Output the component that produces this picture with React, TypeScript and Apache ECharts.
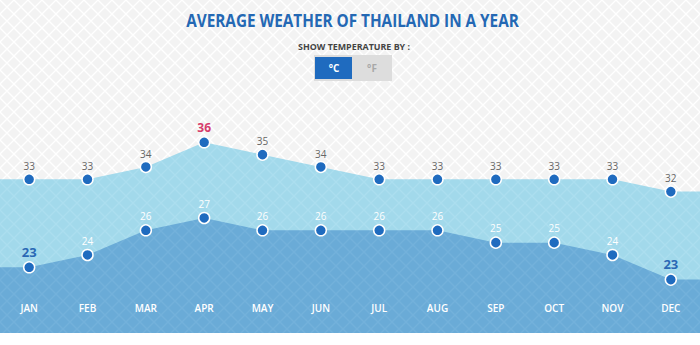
import React, { useEffect, useRef } from "react";
import * as echarts from "echarts";

const months = ["JAN", "FEB", "MAR", "APR", "MAY", "JUN", "JUL", "AUG", "SEP", "OCT", "NOV", "DEC"];
const highTemps = [33, 33, 34, 36, 35, 34, 33, 33, 33, 33, 33, 32];
const highLabels = ["33", "33", "34", "36", "35", "34", "33", "33", "33", "33", "33", "32"];
const lowTemps = [23, 24, 26, 27, 26, 26, 26, 26, 25, 25, 24, 22];
const lowLabels = ["23", "24", "26", "27", "26", "26", "26", "26", "25", "25", "24", "23"];
const titleText = "AVERAGE WEATHER OF THAILAND IN A YEAR";
const subtitleText = "SHOW TEMPERATURE BY :";
const unitC = "°C";
const unitF = "°F";

function tile(bg: string, line: string, s: number) {
  const svg =
    `<svg xmlns="http://www.w3.org/2000/svg" width="${s}" height="${s}">` +
    `<rect width="${s}" height="${s}" fill="${bg}"/>` +
    `<path d="M0 0L${s} ${s}M${s} 0L0 ${s}" stroke="${line}" stroke-width="1.4"/>` +
    `</svg>`;
  return { image: "data:image/svg+xml;charset=utf-8," + encodeURIComponent(svg), repeat: "repeat" };
}

function measure(text: string, font: string, fallback: number) {
  try {
    const c = document.createElement("canvas").getContext("2d");
    if (!c) return fallback;
    c.font = font;
    const w = c.measureText(text).width;
    return w > 0 ? w : fallback;
  } catch (e) {
    return fallback;
  }
}

function padded(values: number[]) {
  const pts: any[] = values.map((v, i) => [i, v]);
  pts.unshift({ value: [-0.5, values[0]], symbol: "none", label: { show: false } });
  pts.push({ value: [values.length - 0.5, values[values.length - 1]], symbol: "none", label: { show: false } });
  return pts;
}

export default function App() {
  const ref = useRef<HTMLDivElement>(null);
  useEffect(() => {
    if (!ref.current) return;
    const chart = echarts.init(ref.current, undefined, { renderer: "svg" });
    const maxHigh = Math.max(...highTemps);
    const minLowLabel = Math.min(...lowLabels.map(Number));

    const titleFont = 'bold 18px "Open Sans"';
    const titleW = measure(titleText, titleFont, 420);
    const subFont = 'bold 9px "Open Sans"';
    const subW = measure(subtitleText, subFont, 130);

    const highData = padded(highTemps).map((d, i) => {
      if (Array.isArray(d)) {
        const idx = i - 1;
        const isMax = highTemps[idx] === maxHigh;
        return {
          value: d,
          label: isMax
            ? { show: true, formatter: highLabels[idx], color: "#d63c6b", fontSize: 12, fontWeight: "bold", distance: 3 }
            : { show: true, formatter: highLabels[idx] },
        };
      }
      return d;
    });
    const lowData = padded(lowTemps).map((d, i) => {
      if (Array.isArray(d)) {
        const idx = i - 1;
        const isMin = Number(lowLabels[idx]) === minLowLabel;
        return {
          value: d,
          label: isMin
            ? { show: true, formatter: lowLabels[idx], color: "#2a68b5", fontSize: 13, fontWeight: "bold", distance: 3 }
            : { show: true, formatter: lowLabels[idx] },
        };
      }
      return d;
    });

    chart.setOption({
      animation: false,
      backgroundColor: "#ffffff",
      textStyle: { fontFamily: '"Open Sans", sans-serif' },
      graphic: [
        { type: "rect", z: -10, silent: true, shape: { x: 0, y: 0, width: 700, height: 333 }, style: { fill: tile("#f3f3f3", "#ffffff", 14) } },
        {
          type: "group", x: 352.5, y: 20, scaleX: 333 / titleW,
          children: [{ type: "text", x: 0, y: 0, style: { text: titleText, font: titleFont, fill: "#2468b4", textAlign: "center", textVerticalAlign: "middle" } }],
        },
        {
          type: "group", x: 354, y: 46, scaleX: 112 / subW,
          children: [{ type: "text", x: 0, y: 0, style: { text: subtitleText, font: subFont, fill: "#444444", textAlign: "center", textVerticalAlign: "middle" } }],
        },
        { type: "rect", shape: { x: 314, y: 55, width: 78, height: 26 }, style: { fill: "#dddddd" } },
        { type: "rect", shape: { x: 315, y: 57, width: 37, height: 22 }, style: { fill: "#1f6bbf" } },
        { type: "text", x: 334, y: 68, style: { text: unitC, font: 'bold 10px "Open Sans"', fill: "#ffffff", textAlign: "center", textVerticalAlign: "middle" } },
        { type: "text", x: 372, y: 68, style: { text: unitF, font: 'bold 10px "Open Sans"', fill: "#a8a8a8", textAlign: "center", textVerticalAlign: "middle" } },
      ],
      grid: { left: 0, right: -7, top: 100, bottom: 12 },
      xAxis: [
        {
          type: "category",
          data: months,
          boundaryGap: true,
          axisLine: { show: false },
          axisTick: { show: false },
          splitLine: { show: false },
          axisLabel: { inside: true, margin: 20, color: "#ffffff", fontSize: 10, fontWeight: 600, fontFamily: '"Open Sans", sans-serif' },
          z: 10,
        },
        { type: "value", min: -0.5, max: 11.5, show: false },
      ],
      yAxis: [
        { type: "value", min: 20.535, max: 39.43, show: false, splitLine: { show: false } },
        { type: "value", min: 17.67, max: 36.57, show: false, splitLine: { show: false } },
      ],
      series: [
        {
          type: "line",
          xAxisIndex: 1,
          yAxisIndex: 0,
          data: highData,
          symbol: "circle",
          symbolSize: 11,
          lineStyle: { width: 0, opacity: 0 },
          itemStyle: { color: "#1f6bbf", borderColor: "#ffffff", borderWidth: 1.5 },
          areaStyle: { color: tile("#a2d9eb", "#abdeef", 14), opacity: 1 },
          label: { show: true, position: "top", distance: 2, color: "#666666", fontSize: 10 },
          z: 2,
        },
        {
          type: "line",
          xAxisIndex: 1,
          yAxisIndex: 1,
          data: lowData,
          symbol: "circle",
          symbolSize: 11,
          lineStyle: { width: 0, opacity: 0 },
          itemStyle: { color: "#1f6bbf", borderColor: "#ffffff", borderWidth: 1.5 },
          areaStyle: { color: tile("#6aabd7", "#73b1db", 14), opacity: 1 },
          label: { show: true, position: "top", distance: 3, color: "#ffffff", fontSize: 10 },
          z: 3,
        },
      ],
    });
    return () => chart.dispose();
  }, []);
  return <div ref={ref} style={{ position: "fixed", left: 0, top: 0, width: 700, height: 345 }} />;
}
